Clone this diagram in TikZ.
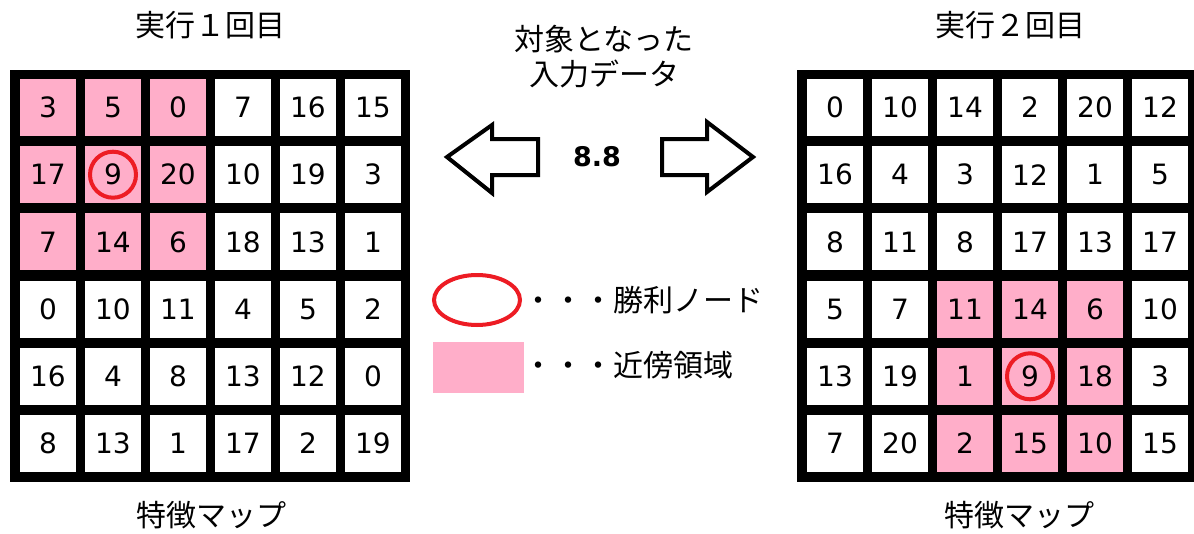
\documentclass[tikz,border=0pt]{standalone}
\usepackage{fontspec}
\usetikzlibrary{shapes.geometric}
\newfontfamily\jp{Noto Sans CJK JP}
\newfontfamily\num{DejaVu Sans}
\definecolor{pinkc}{HTML}{FFAEC9}
\definecolor{redc}{HTML}{ED1C24}
\begin{document}
\begin{tikzpicture}[x=1pt,y=-1pt,
  cell/.style={minimum width=56pt,minimum height=57pt,inner sep=0pt,draw=none,font=\num\fontsize{28}{30}\selectfont},
  frame/.style={fill=black,inner sep=0pt,draw=none},
  jtext/.style={font=\jp\fontsize{30}{35}\selectfont,inner sep=0pt},
  win/.style={circle,draw=redc,line width=4pt,minimum size=46pt,inner sep=0pt},
  blockarrow/.style={draw=black,line width=4pt,line join=miter,fill=white}]
\useasboundingbox (0,0) rectangle (1194,533);
\fill[white] (0,0) rectangle (1194,533);
% frames
\node[frame,minimum width=400pt,minimum height=412pt] (LF) at (210,276) {};
\node[frame,minimum width=397pt,minimum height=412pt] (RF) at (995.5,276) {};
% left grid
\foreach \vals [count=\r] in {{3,5,0,7,16,15},{17,9,20,10,19,3},{7,14,6,18,13,1},{0,10,11,4,5,2},{16,4,8,13,12,0},{8,13,1,17,2,19}}{
  \foreach \v [count=\c] in \vals {
    \ifnum\r<4 \ifnum\c<4 \def\fc{pinkc}\else\def\fc{white}\fi\else\def\fc{white}\fi
    \node[cell,fill=\fc] (L-\r-\c) at ({48+65*(\c-1)},{107.5+67.2*(\r-1)}) {\v};
  }
}
% right grid
\foreach \vals [count=\r] in {{0,10,14,2,20,12},{16,4,3,12,1,5},{8,11,8,17,13,17},{5,7,11,14,6,10},{13,19,1,9,18,3},{7,20,2,15,10,15}}{
  \foreach \v [count=\c] in \vals {
    \def\fc{white}
    \ifnum\r>3 \ifnum\c>2 \ifnum\c<6 \def\fc{pinkc}\fi\fi\fi
    \node[cell,fill=\fc] (R-\r-\c) at ({835+65*(\c-1)},{107.5+67.2*(\r-1)}) {\v};
  }
}
% winner circles
\node[win] (LW) at (L-2-2) {};
\node[win] (RW) at (R-5-4) {};
% titles
\node[jtext] (T1) at (210,25) {実行１回目};
\node[jtext] (T2) at (1010,25) {実行２回目};
\node[jtext] (B1) at (211,515) {特徴マップ};
\node[jtext] (B2) at (1019,515) {特徴マップ};
\node[jtext,align=center] (C) at (604,57) {対象となった\\入力データ};
% arrows
\draw[blockarrow] (447,157) -- (492,125) -- (492,139) -- (538,139) -- (538,175) -- (492,175) -- (492,193) -- cycle;
\draw[blockarrow] (753,157) -- (707,122) -- (707,139) -- (662,139) -- (662,175) -- (707,175) -- (707,192) -- cycle;
\node[font=\num\bfseries\fontsize{27}{30}\selectfont,inner sep=0pt] (V) at (597,157) {8.8};
% legend
\node[ellipse,draw=redc,line width=4pt,minimum width=86pt,minimum height=50pt,inner sep=0pt] (LE) at (477,300) {};
\node[fill=pinkc,minimum width=91pt,minimum height=51pt,inner sep=0pt] (LP) at (478.5,367.5) {};
\node[jtext,anchor=west] (LT1) at (523,300) {・・・勝利ノード};
\node[jtext,anchor=west] (LT2) at (523,365) {・・・近傍領域};
\end{tikzpicture}
\end{document}
